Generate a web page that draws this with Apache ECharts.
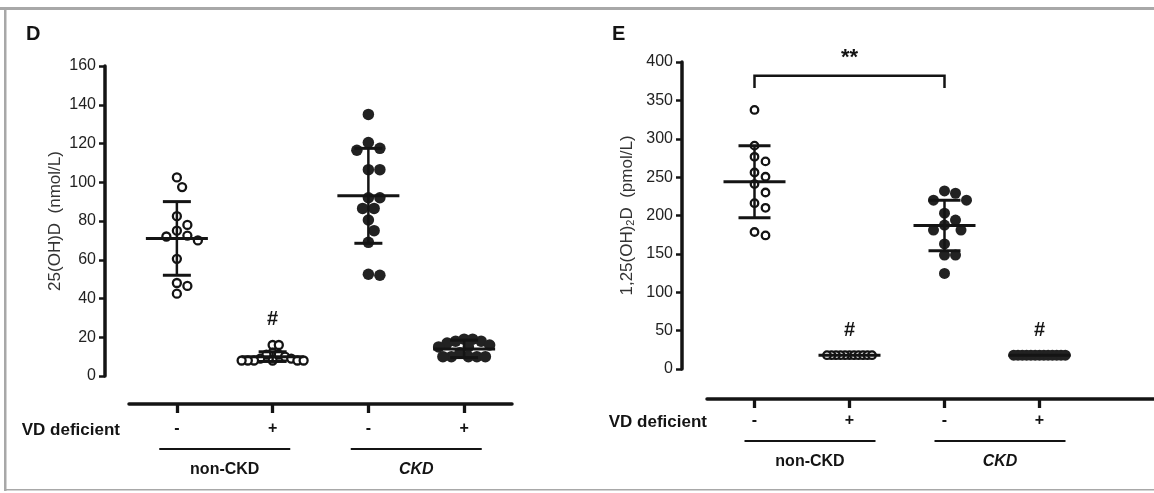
<!DOCTYPE html>
<html>
<head>
<meta charset="utf-8">
<script src="https://cdn.jsdelivr.net/npm/echarts@6/dist/echarts.min.js"></script>
<style>
  html, body { margin: 0; padding: 0; background: #fff; }
  #chart { width: 1154px; height: 493px; }
</style>
</head>
<body>
<div id="chart"></div>
<script>
// categories
const dCategories = ['-', '+', '-', '+'];
const eCategories = ['-', '+', '-', '+'];
const groupNames = ['non-CKD', 'CKD'];
const groupItalic = ['normal', 'italic'];

// D: 25(OH)D (nmol/L)
const dNonCkdMinus = [102.5, 97.5, 82.5, 78, 75, 72.5, 72, 70, 60.5, 48, 46.5, 42.5];
const dNonCkdPlus = [16, 16, 12, 11, 11, 10, 9, 9, 8, 8, 8, 8, 8, 8];
const dCkdMinus = [135, 120.5, 117.5, 116.5, 106.5, 106.5, 92, 92, 86.5, 86.5, 80.5, 75, 69, 52.5, 52];
const dCkdPlus = [19, 19, 18, 18, 17, 16, 15, 15, 12, 10, 10, 10, 10, 10];
const dMean = [71, 10, 93, 14];
const dSd = [19, 2.5, 24.5, 4.5];
const dYAxis = [0, 160, 20];
const dHash = [[2, 29]];

// E: 1,25(OH)2D (pmol/L)
const eNonCkdMinus = [337.5, 291, 276.5, 270.5, 256, 250.5, 241, 230, 216, 210, 178.5, 174];
const eNonCkdPlus = [18, 18, 18, 18, 18, 18, 18, 18, 18, 18, 18];
const eCkdMinus = [232, 229, 220, 220, 203, 194, 187.5, 181, 181, 163, 148.5, 148.5, 124.5];
const eCkdPlus = [18, 18, 18, 18, 18, 18, 18, 18, 18, 18, 18, 18, 18];
const eMean = [244, 18, 187, 18];
const eSd = [47, 0, 33, 0];
const eYAxis = [0, 400, 50];
const eHash = [[2, 50], [4, 50]];
const eBracket = [[1, 3, 382, 366]];

const FONT = '"Liberation Sans", Arial, Helvetica, sans-serif';
const INK = '#141414';

// 레이아웃
const dGrid = { left: 129, top: 66, width: 383, height: 310 };
const eGrid = { left: 707, top: 62, width: 447, height: 307 };
const eBand = 95; // 그룹 간격(px), E 축선은 오른쪽 끝까지 이어짐
const eXMax = 0.5 + eGrid.width / eBand;
const filled = [false, false, true, true];
const dSpacing = [10.5, 6.2, 11.5, 8.5];
const eSpacing = [11, 4.5, 11, 4.3];

// beeswarm 배치: 겹치지 않게 좌우로 퍼뜨림
function swarm(values, center, pxX, pxY, minDist) {
  const placed = [];
  const step = minDist / 2;
  return values.map((v) => {
    const py = v * pxY;
    for (let i = 0; ; i++) {
      const off = (i % 2 === 1 ? 1 : -1) * Math.ceil(i / 2) * step;
      const ok = placed.every((p) => Math.hypot(p[0] - off, p[1] - py) >= minDist - 0.01);
      if (ok) {
        placed.push([off, py]);
        return [center + off / pxX, v];
      }
    }
  });
}

function pointsFor(groups, spacing, pxX, pxY, wantFilled) {
  let out = [];
  groups.forEach((g, i) => {
    if (filled[i] === wantFilled) out = out.concat(swarm(g, i + 1, pxX, pxY, spacing[i]));
  });
  return out;
}

const meanSdRender = (halfWidth, capHalf) => (params, api) => {
  const x = api.value(0), m = api.value(1), s = api.value(2);
  const c = api.coord([x, m]);
  const hi = api.coord([x, m + s]);
  const lo = api.coord([x, m - s]);
  const st = { stroke: INK, lineWidth: 3 };
  const children = [
    { type: 'line', shape: { x1: c[0] - halfWidth, y1: c[1], x2: c[0] + halfWidth, y2: c[1] }, style: st },
  ];
  if (s > 0) {
    children.push(
      { type: 'line', shape: { x1: c[0], y1: hi[1], x2: c[0], y2: lo[1] }, style: { stroke: INK, lineWidth: 2.5 } },
      { type: 'line', shape: { x1: c[0] - capHalf, y1: hi[1], x2: c[0] + capHalf, y2: hi[1] }, style: st },
      { type: 'line', shape: { x1: c[0] - capHalf, y1: lo[1], x2: c[0] + capHalf, y2: lo[1] }, style: st }
    );
  }
  return { type: 'group', children };
};

const groupRender = (shift, axisOffset, lineGap, textGap) => (params, api) => {
  const i = api.value(1);
  const cx = api.coord([api.value(0), 0])[0] + shift;
  const base = params.coordSys.y + params.coordSys.height + axisOffset;
  return {
    type: 'group',
    children: [
      { type: 'line', shape: { x1: cx - 65.5, y1: base + lineGap, x2: cx + 65.5, y2: base + lineGap },
        style: { stroke: INK, lineWidth: 2.2 } },
      { type: 'text', style: { text: groupNames[i], x: cx, y: base + textGap, align: 'center', verticalAlign: 'middle',
        fontSize: 16, fontWeight: 'bold', fontStyle: groupItalic[i], fontFamily: FONT, fill: INK } },
    ],
  };
};

const textRender = (txt, size) => (params, api) => {
  const p = api.coord([api.value(0), api.value(1)]);
  return { type: 'text', style: { text: txt, x: p[0], y: p[1], align: 'center', verticalAlign: 'middle',
    fontSize: size, fontWeight: 'bold', fontFamily: FONT, fill: INK } };
};

const bracketRender = (params, api) => {
  const a = api.coord([api.value(0), api.value(2)]);
  const b = api.coord([api.value(1), api.value(2)]);
  const low = api.coord([api.value(0), api.value(3)])[1];
  return {
    type: 'group',
    children: [
      { type: 'polyline', shape: { points: [[a[0], low], a, b, [b[0], low]] },
        style: { stroke: INK, lineWidth: 2.5, fill: null } },
      { type: 'text', style: { text: '**', x: (a[0] + b[0]) / 2, y: a[1] - 18, align: 'center', verticalAlign: 'middle',
        fontSize: 22, fontWeight: 'bold', fontFamily: FONT, fill: INK } },
    ],
  };
};

const dGroups = [dNonCkdMinus, dNonCkdPlus, dCkdMinus, dCkdPlus];
const eGroups = [eNonCkdMinus, eNonCkdPlus, eCkdMinus, eCkdPlus];
const dPxX = dGrid.width / 4, dPxY = dGrid.height / (dYAxis[1] - dYAxis[0]);
const ePxX = eBand, ePxY = eGrid.height / (eYAxis[1] - eYAxis[0]);

const nameStyle = (margin) => ({
  fontSize: 17, fontWeight: 'bold', color: INK, fontFamily: FONT, verticalAlign: 'top', padding: [margin + 1, 0, 0, 0],
});

const catAxis = (gridIndex, data, offset, margin, nameGap) => ({
  gridIndex, type: 'category', data, position: 'bottom', offset,
  name: 'VD deficient', nameLocation: 'start', nameGap, nameTextStyle: nameStyle(margin),
  axisLine: { onZero: false, lineStyle: { color: INK, width: 3.5 } },
  axisTick: { show: true, alignWithLabel: true, length: 9, lineStyle: { color: INK, width: 3.3 }, interval: 0 },
  axisLabel: { margin, fontSize: 16, fontWeight: 'bold', color: INK, interval: 0 },
  splitLine: { show: false },
});

// E 아래 축: 값 축으로 그룹 위치 1~4에만 눈금
const groupAxis = (gridIndex, labels, max, offset, margin, nameGap) => ({
  gridIndex, type: 'value', min: 0.5, max, position: 'bottom', offset,
  name: 'VD deficient', nameLocation: 'start', nameGap, nameTextStyle: nameStyle(margin),
  axisLine: { show: true, onZero: false, lineStyle: { color: INK, width: 3.5 } },
  axisTick: { show: true, length: 9, lineStyle: { color: INK, width: 3.3 }, customValues: [1, 2, 3, 4] },
  axisLabel: { margin, fontSize: 16, fontWeight: 'bold', color: INK, customValues: [1, 2, 3, 4],
    formatter: (v) => labels[Math.round(v) - 1] || '' },
  splitLine: { show: false },
});

const valAxis = (gridIndex, range, offset, name, nameGap, rich) => ({
  gridIndex, type: 'value', min: range[0], max: range[1], interval: range[2], offset,
  name, nameLocation: 'middle', nameGap,
  nameTextStyle: { fontSize: 17, color: '#333', fontFamily: FONT, rich },
  axisLine: { show: true, onZero: false, lineStyle: { color: INK, width: 3.5 } },
  axisTick: { show: true, length: 6, lineStyle: { color: INK, width: 2.5 } },
  axisLabel: { margin: 9, fontSize: 16, color: '#222' },
  splitLine: { show: false },
});

const openStyle = { color: '#fff', borderColor: INK, borderWidth: 2.3, opacity: 1 };
const fillStyle = { color: '#222', opacity: 1 };

const chart = echarts.init(document.getElementById('chart'));
chart.setOption({
  animation: false,
  backgroundColor: '#fff',
  textStyle: { fontFamily: FONT },
  title: [
    { text: 'D', left: 26, top: 24, padding: 0, textStyle: { fontSize: 20, fontWeight: 'bold', color: INK } },
    { text: 'E', left: 612, top: 24, padding: 0, textStyle: { fontSize: 20, fontWeight: 'bold', color: INK } },
  ],
  graphic: [
    { type: 'rect', shape: { x: 0, y: 7, width: 1154, height: 3 }, style: { fill: '#a8a8a8' } },
    { type: 'rect', shape: { x: 4, y: 7, width: 2.5, height: 484 }, style: { fill: '#a8a8a8' } },
    { type: 'rect', shape: { x: 4, y: 489, width: 1150, height: 1.5 }, style: { fill: '#a8a8a8' } },
  ],
  grid: [dGrid, eGrid],
  xAxis: [
    catAxis(0, dCategories, 28, 17, 9),
    { gridIndex: 0, type: 'value', min: 0.5, max: 4.5, show: false },
    groupAxis(1, eCategories, eXMax, 30, 14, 0),
  ],
  yAxis: [
    valAxis(0, dYAxis, 24, '25(OH)D  (nmol/L)', 41),
    valAxis(1, eYAxis, 25, '1,25(OH){sub|2}D  (pmol/L)', 46,
      { sub: { fontSize: 11, color: '#333', fontFamily: FONT, verticalAlign: 'bottom' } }),
  ],
  series: [
    // D
    { type: 'scatter', xAxisIndex: 1, yAxisIndex: 0, symbol: 'circle', symbolSize: 8, itemStyle: openStyle,
      data: pointsFor(dGroups, dSpacing, dPxX, dPxY, false) },
    { type: 'scatter', xAxisIndex: 1, yAxisIndex: 0, symbol: 'circle', symbolSize: 11.5, itemStyle: fillStyle,
      data: pointsFor(dGroups, dSpacing, dPxX, dPxY, true) },
    { type: 'custom', xAxisIndex: 1, yAxisIndex: 0, renderItem: meanSdRender(31, 14), z: 5,
      data: dMean.map((m, i) => [i + 1, m, dSd[i]]) },
    { type: 'custom', xAxisIndex: 1, yAxisIndex: 0, renderItem: textRender('#', 20), data: dHash },
    { type: 'custom', xAxisIndex: 1, yAxisIndex: 0, renderItem: groupRender(0, 28, 45, 66),
      data: [[1.5, 0], [3.5, 1]] },
    // E
    { type: 'scatter', xAxisIndex: 2, yAxisIndex: 1, symbol: 'circle', symbolSize: 7.5, itemStyle: openStyle,
      data: pointsFor(eGroups, eSpacing, ePxX, ePxY, false) },
    { type: 'scatter', xAxisIndex: 2, yAxisIndex: 1, symbol: 'circle', symbolSize: 11, itemStyle: fillStyle,
      data: pointsFor(eGroups, eSpacing, ePxX, ePxY, true) },
    { type: 'custom', xAxisIndex: 2, yAxisIndex: 1, renderItem: meanSdRender(31, 16), z: 5,
      data: eMean.map((m, i) => [i + 1, m, eSd[i]]) },
    { type: 'custom', xAxisIndex: 2, yAxisIndex: 1, renderItem: textRender('#', 20), data: eHash },
    { type: 'custom', xAxisIndex: 2, yAxisIndex: 1, renderItem: bracketRender, data: eBracket },
    { type: 'custom', xAxisIndex: 2, yAxisIndex: 1, renderItem: groupRender(8, 30, 42, 63),
      data: [[1.5, 0], [3.5, 1]] },
  ],
});
</script>
</body>
</html>
